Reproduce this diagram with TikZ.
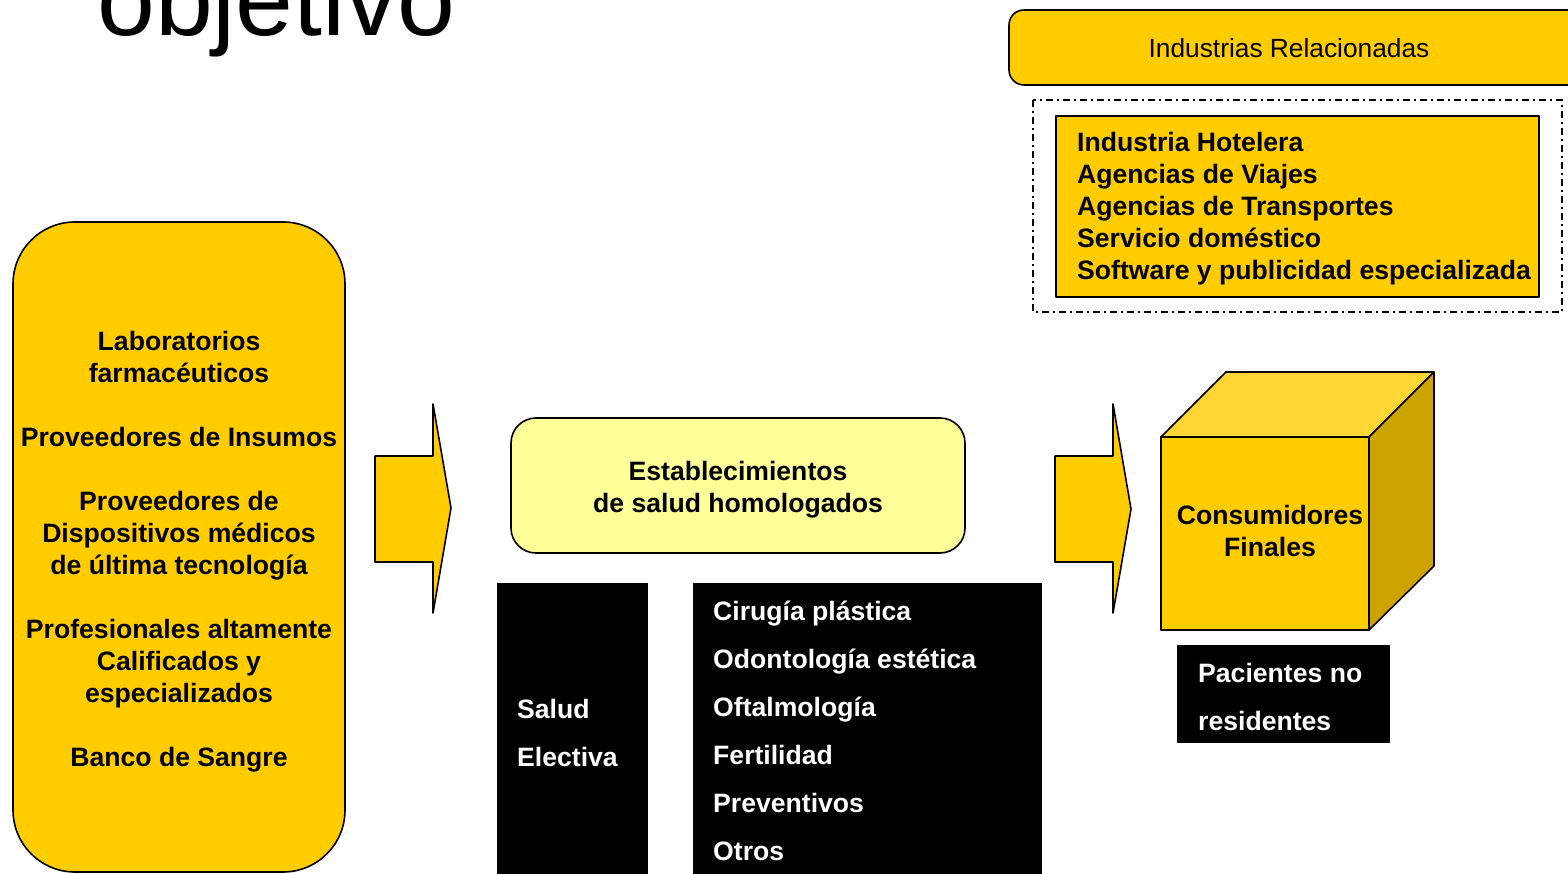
\documentclass[tikz,border=0pt]{standalone}
\usepackage{fontspec}
\setmainfont{Liberation Sans}
\definecolor{gold}{HTML}{FFCC00}
\definecolor{goldtop}{HTML}{FFD633}
\definecolor{goldside}{HTML}{CCA300}
\definecolor{paleyellow}{HTML}{FFFF99}
\begin{document}
\begin{tikzpicture}[x=1pt,y=-1pt,
  outline/.style={draw=black, line width=1.6pt, line join=round},
  lbl/.style={font=\fontsize{26.6}{32}\selectfont\bfseries, inner sep=0pt},
  wlbl/.style={lbl, text=white}]
\useasboundingbox (0,0) rectangle (1568,874);

% title
\node[font=\fontsize{104}{114}\selectfont, anchor=base west, inner sep=0pt] (title) at (97,36) {objetivo};

% left supplier box
\draw[outline, fill=gold, rounded corners=62pt] (13,222) rectangle (345,872);
\foreach \t/\yy [count=\i] in {Laboratorios/350, farmacéuticos/382, Proveedores de Insumos/446,
  Proveedores de/510, Dispositivos médicos/542, de última tecnología/574,
  Profesionales altamente/638, Calificados y/670, especializados/702, Banco de Sangre/766}
  \node[lbl, anchor=base] (sup\i) at (179,\yy) {\t};

% arrows
\draw[outline, fill=gold] (375,456) -- (433,456) -- (433,404) -- (451,508) -- (433,613) -- (433,562) -- (375,562) -- cycle;
\draw[outline, fill=gold] (1055,456) -- (1113,456) -- (1113,404) -- (1131,509) -- (1113,613) -- (1113,562) -- (1055,562) -- cycle;

% establecimientos
\draw[outline, fill=paleyellow, rounded corners=25pt] (511,418) rectangle (965,553);
\node[lbl, anchor=base] (est1) at (738,480) {Establecimientos};
\node[lbl, anchor=base] (est2) at (738,512) {de salud homologados};

% black boxes
\fill[black] (497,583) rectangle (648,880);
\node[wlbl, anchor=base west] (se1) at (517,718) {Salud};
\node[wlbl, anchor=base west] (se2) at (517,766) {Electiva};
\fill[black] (693,583) rectangle (1042,880);
\foreach \t/\yy [count=\i] in {Cirugía plástica/620, Odontología estética/668, Oftalmología/716,
  Fertilidad/764, Preventivos/812, Otros/860}
  \node[wlbl, anchor=base west] (esp\i) at (713,\yy) {\t};

% cube
\draw[outline, fill=goldtop] (1161,437) -- (1226,372) -- (1434,372) -- (1369,437) -- cycle;
\draw[outline, fill=goldside] (1369,437) -- (1434,372) -- (1434,566) -- (1369,630) -- cycle;
\draw[outline, fill=gold] (1161,437) rectangle (1369,630);
\node[lbl, anchor=base] (cons1) at (1270,524) {Consumidores};
\node[lbl, anchor=base] (cons2) at (1270,556) {Finales};

% pacientes
\fill[black] (1177,645) rectangle (1390,743);
\node[wlbl, anchor=base west] (pac1) at (1198,682) {Pacientes no};
\node[wlbl, anchor=base west] (pac2) at (1198,730) {residentes};

% industrias relacionadas
\draw[outline, fill=gold, rounded corners=15pt] (1009,10) rectangle (1600,85);
\node[font=\fontsize{26.3}{30}\selectfont, anchor=base, inner sep=0pt] (ind) at (1289,58) {Industrias Relacionadas};
\draw[line width=1.3pt, dash pattern=on 7pt off 4pt on 2pt off 4pt] (1033,100) rectangle (1562,312);
\draw[outline, fill=gold] (1056,116) rectangle (1539,297);
\foreach \t/\yy [count=\i] in {Industria Hotelera/152, Agencias de Viajes/184, Agencias de Transportes/216,
  Servicio doméstico/248, Software y publicidad especializada/280}
  \node[lbl, anchor=base west] (rel\i) at (1077,\yy) {\t};
\end{tikzpicture}
\end{document}
